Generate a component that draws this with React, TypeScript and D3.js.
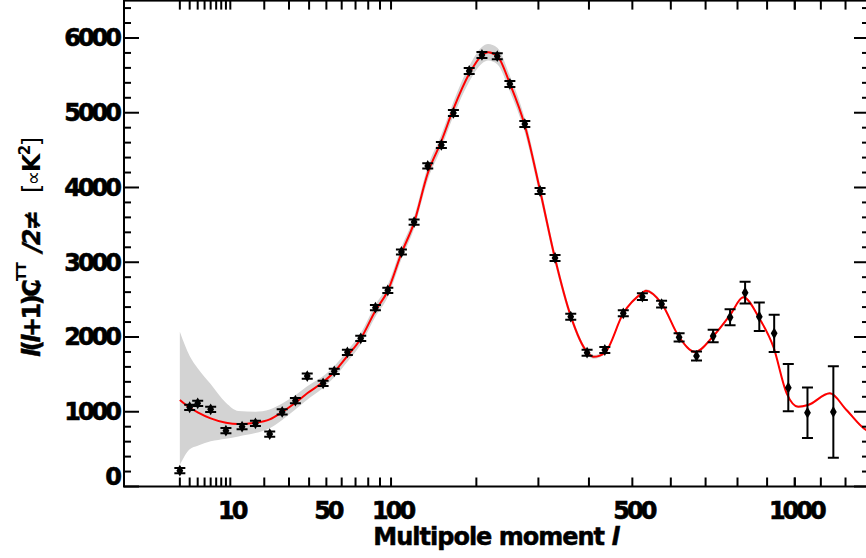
import React from "react";
import * as d3 from "d3";

// best-fit model curve
const modelL = [2, 3, 4, 6, 9, 12, 17, 22, 27, 33, 39, 47, 55, 64, 74, 86, 97, 110, 123, 138, 154, 169, 190, 208, 217, 231, 251, 276, 303, 331, 362, 396, 410, 435, 478, 525, 534, 575, 623, 669, 723, 776, 819, 873, 922, 970, 1013, 1050, 1136, 1204, 1287, 1300];
const modelV = [1157, 1054, 993, 912, 853, 836, 853, 899, 997, 1121, 1247, 1381, 1532, 1746, 1977, 2352, 2619, 3120, 3530, 4190, 4620, 5050, 5520, 5770, 5810, 5760, 5390, 4830, 3960, 3050, 2280, 1800, 1735, 1790, 2317, 2590, 2620, 2450, 2000, 1800, 2010, 2294, 2531, 2250, 1870, 1247, 1068, 1090, 1247, 1023, 756, 735];
// cosmic variance band (upper / lower edge)
const bandHi = [2071, 1746, 1581, 1371, 1120, 1010, 1000, 1030, 1110, 1220, 1340, 1460, 1610, 1820, 2050, 2430, 2700, 3200, 3610, 4280, 4710, 5145, 5625, 5880, 5920, 5870, 5495, 4925, 4045, 3120, 2330, 1830, 1760, 1810, 2335, 2610, 2640, 2470, 2020, 1815, 2025, 2310, 2550, 2270, 1890, 1262, 1083, 1105, 1262, 1038, 771, 750];
const bandLo = [288, 498, 546, 605, 640, 670, 715, 780, 890, 1030, 1160, 1300, 1460, 1670, 1900, 2270, 2540, 3040, 3450, 4100, 4530, 4955, 5415, 5660, 5700, 5650, 5285, 4735, 3875, 2980, 2230, 1770, 1710, 1770, 2300, 2570, 2600, 2430, 1980, 1785, 1995, 2280, 2510, 2230, 1850, 1232, 1053, 1075, 1232, 1008, 741, 720];

// measured band powers with errors
const dataL = [2, 3, 4, 6, 9, 13, 17, 22, 27, 33, 39, 48, 55, 64, 74, 86, 97, 110, 123, 138, 154, 169, 190, 208, 231, 251, 276, 303, 331, 362, 396, 435, 478, 525, 575, 623, 673, 723, 776, 825, 873, 925, 976, 1048, 1150];
const dataV = [211, 1060, 1113, 1033, 746, 800, 845, 702, 997, 1148, 1478, 1381, 1541, 1795, 1983, 2392, 2625, 3137, 3538, 4288, 4569, 4997, 5559, 5773, 5756, 5385, 4849, 3953, 3057, 2271, 1790, 1826, 2317, 2539, 2441, 1996, 1746, 2013, 2263, 2593, 2271, 2049, 1322, 987, 997];
const dataErr = [35, 35, 35, 35, 35, 35, 35, 35, 35, 35, 35, 35, 35, 35, 35, 35, 35, 35, 35, 35, 40, 40, 40, 40, 40, 40, 40, 40, 40, 40, 40, 40, 40, 45, 45, 55, 60, 85, 107, 145, 190, 250, 317, 337, 611];

const xTickLabels = [10, 50, 100, 500, 1000];
const yTickLabels = [0, 1000, 2000, 3000, 4000, 5000, 6000];

const W = 866;
const H = 558;
const FONT = "'DejaVu Sans', Verdana, sans-serif";

export default function App() {
  const x = d3.scalePow().exponent(0.4).domain([0, 1300]).range([124, 869]);
  const y = d3.scaleLinear().domain([0, 6500]).range([486.5, 0.6]);
  const left = x.range()[0], right = x.range()[1];
  const top = y.range()[1], bottom = y.range()[0];

  const xMinor = [...d3.range(2, 10), ...d3.range(20, 100, 10), ...d3.range(200, 1300, 100), 10, 100, 1000];
  const yMinor = d3.range(0, 6500, 200);

  const model = modelL.map((l, i) => [l, modelV[i], bandLo[i], bandHi[i]]);
  const line = d3.line<number[]>().x(d => x(d[0])).y(d => y(d[1])).curve(d3.curveMonotoneX);
  const area = d3.area<number[]>().x(d => x(d[0])).y0(d => y(d[2])).y1(d => y(d[3])).curve(d3.curveMonotoneX);

  const pts = dataL.map((l, i) => ({ l, v: dataV[i], e: dataErr[i] }));
  const diamond = d3.symbol().type(d3.symbolDiamond).size(40)();

  return (
    <div style={{ position: "absolute", left: 0, top: 0 }}>
      <svg width={W} height={H} style={{ display: "block", background: "#fff" }}>
        <defs>
          <clipPath id="plot">
            <rect x={left} y={top} width={right - left} height={bottom - top} />
          </clipPath>
        </defs>

        <g clipPath="url(#plot)">
          <path d={area(model) || ""} fill="#d3d3d3" />
          <path d={line(model) || ""} fill="none" stroke="#ff0000" strokeWidth={2} />
          {pts.map((p, i) => {
            const cx = x(p.l), y1 = y(p.v + p.e), y0 = y(p.v - p.e);
            return (
              <g key={i} stroke="#000" strokeWidth={2}>
                <line x1={cx} x2={cx} y1={y0} y2={y1} />
                <line x1={cx - 5.5} x2={cx + 5.5} y1={y0} y2={y0} />
                <line x1={cx - 5.5} x2={cx + 5.5} y1={y1} y2={y1} />
                <path d={diamond || ""} transform={`translate(${cx},${y(p.v)})`} fill="#000" stroke="none" />
              </g>
            );
          })}
        </g>

        {/* frame and ticks */}
        <rect x={left} y={top} width={right - left} height={bottom - top} fill="none" stroke="#000" strokeWidth={2} />
        {xMinor.map(t => (
          <g key={"xt" + t} stroke="#000" strokeWidth={2}>
            <line x1={x(t)} x2={x(t)} y1={bottom} y2={bottom - 9} />
            <line x1={x(t)} x2={x(t)} y1={top} y2={top + 9} />
          </g>
        ))}
        {yMinor.map(t => {
          const len = t % 1000 === 0 ? 15 : 7;
          return (
            <g key={"yt" + t} stroke="#000" strokeWidth={2}>
              <line x1={left} x2={left + len} y1={y(t)} y2={y(t)} />
              <line x1={right} x2={right - len} y1={y(t)} y2={y(t)} />
            </g>
          );
        })}

        {/* tick labels */}
        <g fontFamily={FONT} fontWeight="bold" fontSize={24} letterSpacing={-3} fill="#000" stroke="#000" strokeWidth={0.6}>
          {xTickLabels.map(t => (
            <text key={"xl" + t} x={x(t) + 1.5} y={519} textAnchor="middle">{t}</text>
          ))}
          {yTickLabels.map(t => (
            <text key={"yl" + t} x={119} y={y(t) + 8.5 - (t === 0 ? 10 : 0)} textAnchor="end">{t}</text>
          ))}
        </g>

        {/* axis titles */}
        <text x={496} y={545} textAnchor="middle" fontFamily={FONT} fontWeight="bold" fontSize={24} letterSpacing={-1} stroke="#000" strokeWidth={0.5}>
          Multipole moment <tspan fontStyle="italic">l</tspan>
        </text>

        <g transform="translate(40,357) rotate(-90)" fontFamily={FONT} fontWeight="bold" fill="#000">
          <text x={0} y={0} fontSize={24} letterSpacing={-2.5} stroke="#000" strokeWidth={0.5}>
            <tspan fontStyle="italic">l</tspan>(<tspan fontStyle="italic">l</tspan>+1)C
          </text>
          <text x={70} y={1} fontSize={12} fontStyle="italic">l</text>
          <text x={76} y={-14} fontSize={14} letterSpacing={-0.5}>TT</text>
          <text x={105} y={0} fontSize={24} fontStyle="italic" letterSpacing={-2} stroke="#000" strokeWidth={0.4}>/2≠</text>
          <text x={164} y={0} fontSize={24} letterSpacing={-1.5}>
            <tspan fontWeight="normal">[</tspan><tspan fontWeight="normal" fontSize={20}>∝</tspan>K<tspan fontSize={15} dy={-10}>2</tspan><tspan fontWeight="normal" dy={10}>]</tspan>
          </text>
        </g>
      </svg>
    </div>
  );
}
